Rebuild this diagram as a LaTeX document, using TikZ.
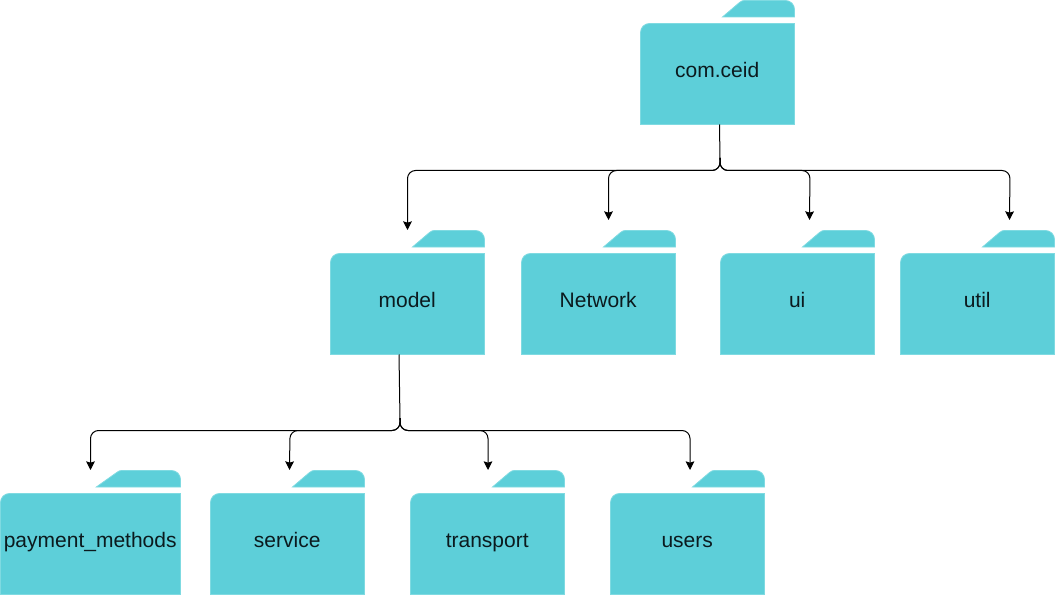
\documentclass[tikz,border=0pt]{standalone}
\usepackage{fontspec}
\setmainfont{Liberation Sans}
\usetikzlibrary{arrows.meta}
\definecolor{folderfill}{HTML}{5DCFD9}
\definecolor{folderline}{HTML}{7FDAE1}
\definecolor{labelink}{HTML}{0B1A1E}
\tikzset{
  x=0.75pt,y=-0.75pt,
  folderlabel/.style={inner sep=0pt,anchor=base,font=\fontsize{15.75}{18}\selectfont,text=labelink},
  folderpart/.style={fill=folderfill,draw=folderline,line width=0.6pt},
  link/.style={draw=black,line width=0.75pt,rounded corners=6pt,-{Stealth[length=6.5pt,width=6.5pt,inset=1pt]}},
  trunk/.style={draw=black,line width=0.75pt}
}
% #1 name, #2 left, #3 top, #4 width, #5 label
\newcommand{\folderdraw}[5]{%
  \path[folderpart,rounded corners=0pt]
    ({#2+#4-0.4675*#4},{#3+16.5}) -- ({#2+#4-0.3377*#4-3},{#3+2})
    .. controls ({#2+#4-0.3377*#4-1},{#3+0.5}) and ({#2+#4-0.3377*#4},{#3}) .. ({#2+#4-0.3377*#4+2},{#3})
    -- ({#2+#4-9},{#3}) .. controls ({#2+#4-4},{#3}) and ({#2+#4},{#3+4}) .. ({#2+#4},{#3+9})
    -- ({#2+#4},{#3+16.5}) -- cycle;
  \path[folderpart]
    ({#2},{#3+124}) -- ({#2},{#3+32})
    .. controls ({#2},{#3+27}) and ({#2+4},{#3+23}) .. ({#2+9},{#3+23})
    -- ({#2+#4},{#3+23}) -- ({#2+#4},{#3+124}) -- cycle;
  \node[folderlabel] (#1) at ({#2+#4/2-0.3},{#3+77}) {#5};
  \coordinate (#1-bottom) at ({#2+#4/2},{#3+124});
}
\begin{document}
\begin{tikzpicture}
\useasboundingbox (0,0) rectangle (1055,595);
\folderdraw{com}{640.5}{0.5}{154}{com.ceid}
\folderdraw{model}{330.5}{230.5}{154}{model}
\folderdraw{network}{521.5}{230.5}{154}{Network}
\folderdraw{ui}{720.5}{230.5}{154}{ui}
\folderdraw{util}{900.5}{230.5}{154}{util}
\folderdraw{payment}{0.5}{470.5}{180}{payment\_methods}
\folderdraw{service}{210.5}{470.5}{154}{service}
\folderdraw{transport}{410.5}{470.5}{154}{transport}
\folderdraw{users}{610.5}{470.5}{154}{users}
\coordinate (hubtop) at (720,170.5);
\coordinate (hubbot) at (400,430.5);
\coordinate (inmodel) at (407.5,230);
\coordinate (innetwork) at (608.5,220);
\coordinate (inui) at (809.5,220);
\coordinate (inutil) at (1009.5,220);
\coordinate (inpayment) at (90.5,470);
\coordinate (inservice) at (289.5,470);
\coordinate (intransport) at (488,470);
\coordinate (inusers) at (690,470);
\draw[trunk] (719.5,124.5) -- (720,160);
\draw[trunk] (399,354.5) -- (400,420);
\draw[link] (720,158) -- (hubtop) -- (407.5,170.5) -- (inmodel);
\draw[link] (720,158) -- (hubtop) -- (608.5,170.5) -- (innetwork);
\draw[link] (720,158) -- (hubtop) -- (810,170.5) -- (inui);
\draw[link] (720,158) -- (hubtop) -- (1010,170.5) -- (inutil);
\draw[link] (400,418) -- (hubbot) -- (90.5,430.5) -- (inpayment);
\draw[link] (400,418) -- (hubbot) -- (290,430.5) -- (inservice);
\draw[link] (400,418) -- (hubbot) -- (488,430.5) -- (intransport);
\draw[link] (400,418) -- (hubbot) -- (690,430.5) -- (inusers);
\end{tikzpicture}
\end{document}
